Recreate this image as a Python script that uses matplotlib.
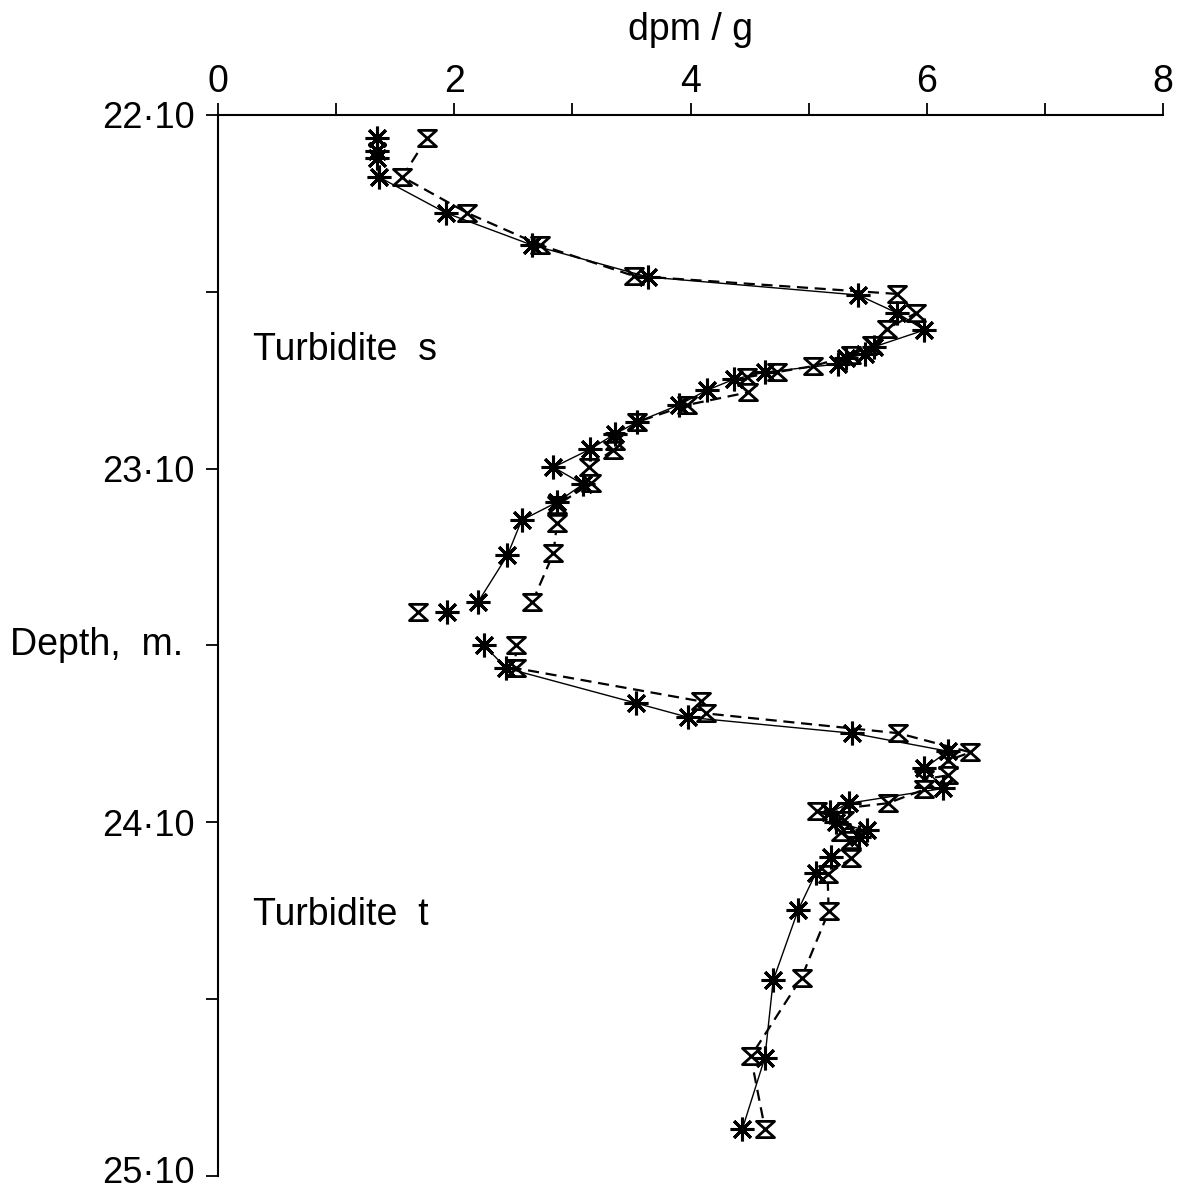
import numpy as np
import matplotlib
matplotlib.use('Agg')
import matplotlib.pyplot as plt
import matplotlib.transforms as mtransforms
from matplotlib.path import Path

plt.rcParams['font.family'] = ['Liberation Sans', 'DejaVu Sans']

# turbidite s, asterisk series (solid line)
ast_s_x = [1.35, 1.35, 1.35, 1.36, 1.93, 2.66, 3.64, 5.42, 5.75, 5.98, 5.55, 5.48, 5.32, 5.25,
           4.63, 4.37, 4.14, 3.90, 3.55, 3.36, 3.15, 2.84, 3.09, 2.87, 2.57, 2.45, 2.20]
ast_s_d = [22.165, 22.202, 22.222, 22.275, 22.377, 22.468, 22.558, 22.609, 22.660, 22.708, 22.756,
           22.776, 22.787, 22.804, 22.827, 22.847, 22.878, 22.920, 22.968, 23.002, 23.045, 23.096,
           23.144, 23.195, 23.246, 23.345, 23.478]

# turbidite s, hourglass series (dashed line)
hg_s_x = [1.77, 1.56, 2.11, 2.73, 3.52, 5.75, 5.91, 5.66, 5.54, 5.36, 5.04, 4.73, 4.48, 4.49,
          3.97, 3.55, 3.36, 3.34, 3.14, 3.16, 2.87, 2.87, 2.84, 2.66]
hg_s_d = [22.165, 22.275, 22.377, 22.468, 22.555, 22.606, 22.660, 22.705, 22.751, 22.779, 22.810,
          22.827, 22.841, 22.884, 22.920, 22.968, 23.022, 23.048, 23.096, 23.141, 23.203, 23.254,
          23.339, 23.478]

# base of s, unconnected points
ast_base_x = [1.94]
ast_base_d = [23.506]
hg_base_x = [1.69]
hg_base_d = [23.506]

# turbidite t, asterisk series
ast_t_x = [2.25, 2.44, 3.54, 3.98, 5.37, 6.18, 5.98, 6.14, 5.34, 5.18, 5.23, 5.49, 5.43, 5.19,
           5.06, 4.91, 4.70, 4.63, 4.44]
ast_t_d = [23.599, 23.664, 23.763, 23.803, 23.848, 23.899, 23.947, 24.004, 24.046, 24.072, 24.100,
           24.123, 24.142, 24.199, 24.244, 24.349, 24.547, 24.765, 24.966]

# turbidite t, hourglass series
hg_t_x = [2.52, 2.52, 4.09, 4.13, 5.76, 6.37, 6.18, 6.18, 5.98, 5.98, 5.67, 5.07, 5.30, 5.27,
          5.36, 5.36, 5.16, 5.17, 4.94, 4.51, 4.63]
hg_t_d = [23.599, 23.664, 23.758, 23.792, 23.848, 23.902, 23.925, 23.967, 23.978, 24.007, 24.046,
          24.069, 24.094, 24.128, 24.151, 24.202, 24.247, 24.352, 24.539, 24.762, 24.966]

depth_ticks = [22.1, 23.1, 24.1, 25.1]
depth_labels = ['22\u00b710', '23\u00b710', '24\u00b710', '25\u00b710']
depth_minor = [22.6, 23.6, 24.6]

hourglass = Path([(-1, 0.9), (1, 0.9), (-1, -0.9), (1, -0.9), (-1, 0.9)],
                 [Path.MOVETO, Path.LINETO, Path.LINETO, Path.LINETO, Path.CLOSEPOLY])
asterisk = (8, 2, 0)

fig = plt.figure(figsize=(11.84, 11.92), dpi=100)
ax = fig.add_axes([218/1184, 1 - 1176/1192, (1163 - 218)/1184, (1176 - 115)/1192])

ast_style = dict(color='black', lw=1.0, marker=asterisk, ms=17, mew=2.2)
hg_style = dict(color='black', lw=1.6, ls=(0, (5, 3)), marker=hourglass, ms=13,
                mfc='white', mec='black', mew=2.0)

for xs, ds in [(hg_s_x, hg_s_d), (hg_t_x, hg_t_d), (hg_base_x, hg_base_d)]:
    ax.plot(xs, ds, **hg_style)
for xs, ds in [(ast_s_x, ast_s_d), (ast_t_x, ast_t_d), (ast_base_x, ast_base_d)]:
    ax.plot(xs, ds, **ast_style)

ax.set_xlim(0, 8)
ax.set_ylim(25.1, 22.1)
ax.xaxis.tick_top()
ax.set_xticks(range(0, 9))
ax.set_xticklabels(['0', '', '2', '', '4', '', '6', '', '8'])
ax.set_yticks(depth_ticks)
ax.set_yticklabels(depth_labels)
ax.set_yticks(depth_minor, minor=True)
ax.spines['right'].set_visible(False)
ax.spines['bottom'].set_visible(False)
ax.spines['left'].set_linewidth(1.5)
ax.spines['top'].set_linewidth(1.5)
ax.tick_params(axis='x', which='major', length=9, width=1.3, pad=2, labelsize=27, direction='out')
ax.tick_params(axis='y', which='major', length=9, width=1.3, pad=8, labelsize=26, direction='out')
ax.tick_params(axis='y', which='minor', length=9, width=1.3, direction='out')

# nudge the bottom depth label up a little so it stays inside the figure
last = ax.get_yticklabels()[-1]
last.set_transform(last.get_transform() + mtransforms.ScaledTranslation(0, 6/100, fig.dpi_scale_trans))

fig.text(690/1184, 1 - 30/1192, 'dpm / g', fontsize=27, ha='center', va='center')
fig.text(10/1184, 1 - 645/1192, 'Depth,  m.', fontsize=27, ha='left', va='center')
ax.text(0.3, 22.765, 'Turbidite  s', fontsize=27, ha='left', va='center')
ax.text(0.3, 24.363, 'Turbidite  t', fontsize=27, ha='left', va='center')

fig.savefig('out.png', dpi=100)
